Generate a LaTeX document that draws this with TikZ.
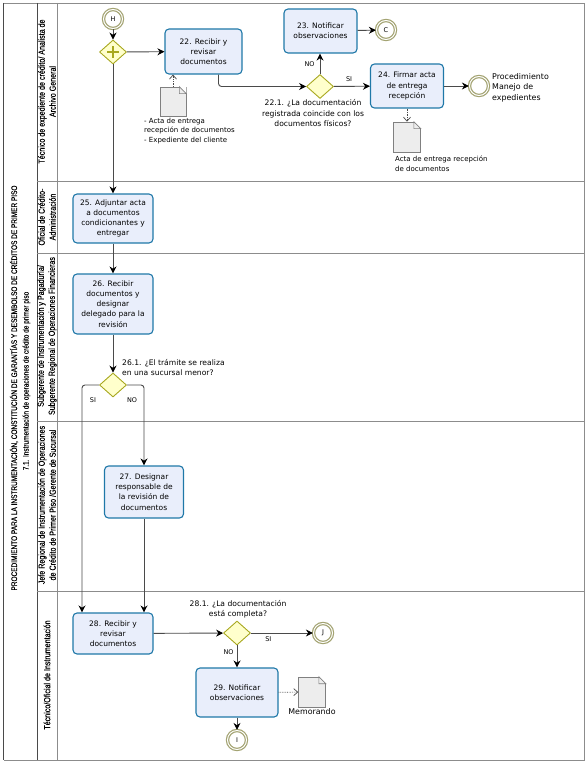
\documentclass[tikz,border=0pt]{standalone}
\usepackage{fontspec}
\setmainfont{DejaVu Sans}
\newfontfamily\lanefont[FakeStretch=0.80,FakeBold=0.25]{Liberation Sans}
\usetikzlibrary{arrows.meta,shapes.geometric}
\definecolor{taskfill}{HTML}{E9EEFB}
\definecolor{taskline}{HTML}{1F78A8}
\definecolor{gatefill}{HTML}{FFFFCC}
\definecolor{gateline}{HTML}{A8A820}
\definecolor{eventline}{HTML}{A3A372}
\definecolor{laneline}{HTML}{8C8C8C}
\definecolor{flowline}{HTML}{4A4A4A}
\newcommand{\docfold}[1]{%
    \fill[white] ([xshift=-7pt]#1.north east) -- (#1.north east) -- ([yshift=-7pt]#1.north east) -- cycle;
    \draw[gray,line width=.6pt] ([xshift=-7pt]#1.north east) -- ([xshift=-7pt,yshift=-7pt]#1.north east) -- ([yshift=-7pt]#1.north east) -- cycle;
}
\begin{document}
\begin{tikzpicture}[
        x=1pt,
        y=-1pt,
        task/.style={
            rectangle,
            draw=taskline,
            fill=taskfill,
            line width=1.1pt,
            rounded corners=4pt,
            align=center,
            inner sep=0pt,
            font=\fontsize{7.5}{10.2}\selectfont
        },
        gate/.style={
            diamond,
            draw=gateline,
            fill=gatefill,
            line width=.9pt,
            inner sep=0pt,
            aspect=1.1,
            minimum width=27pt,
            minimum height=24pt
        },
        event/.style={
            circle,
            draw=eventline,
            fill=white,
            double=white,
            double distance=1pt,
            line width=1.2pt,
            inner sep=0pt,
            minimum size=19pt,
            font=\fontsize{6.5}{8}\selectfont
        },
        docbox/.style={
            rectangle,
            draw=gray,
            fill=black!7,
            line width=.6pt,
            inner sep=0pt
        },
        caption/.style={
            align=left,
            inner sep=0pt,
            font=\fontsize{7}{9.4}\selectfont
        },
        question/.style={
            align=center,
            inner sep=0pt,
            font=\fontsize{7.6}{10.4}\selectfont
        },
        endcaption/.style={
            align=left,
            inner sep=0pt,
            font=\fontsize{7.9}{10.4}\selectfont
        },
        flowlabel/.style={
            inner sep=0pt,
            font=\fontsize{6.5}{8}\selectfont
        },
        lanelabel/.style={
            rotate=90,
            align=center,
            inner sep=0pt,
            font=\lanefont\fontsize{8.9}{11}\selectfont
        },
        pooltext/.style={
            rotate=90,
            align=center,
            inner sep=0pt,
            font=\lanefont\fontsize{8.1}{10}\selectfont
        },
        arrow/.style={
            -{Stealth[length=7pt,width=7pt,black]},
            draw=flowline,
            line width=.9pt,
            rounded corners=3pt
        },
        assoc/.style={
            -{Straight Barb[length=4pt,width=7pt]},
            draw=flowline,
            densely dotted,
            line width=.7pt
        },
        laneedge/.style={
            draw=laneline,
            line width=.8pt
        }
    ]
        \useasboundingbox (0,0) rectangle (586,765);

        % pool and lanes
        \draw[laneedge] (3.5,3) -- (584,3) -- (584,760) -- (3.5,760);
        \draw[flowline,line width=.8pt] (3.5,3) -- (3.5,760);
        \draw[flowline,line width=.8pt] (37,3) -- (37,760);
        \draw[laneedge] (57,3) -- (57,760);
        \draw[laneedge] (37,181.5) -- (584,181.5);
        \draw[laneedge] (37,253) -- (584,253);
        \draw[laneedge] (37,421) -- (584,421);
        \draw[laneedge] (37,591.5) -- (584,591.5);

        \node[pooltext] (pooltitle) at (14,388) {PROCEDIMIENTO PARA LA INSTRUMENTACIÓN, CONSTITUCIÓN DE GARANTÍAS Y DESEMBOLSO DE CRÉDITOS DE PRIMER PISO};
        \node[pooltext] (poolsub) at (26.5,381) {7.1. Instrumentación de operaciones de crédito de primer piso};
        \node[lanelabel] (lanetecnico) at (47,91.5) {Técnico de expediente de crédito/ Analista de\\Archivo General};
        \node[lanelabel] (laneoficial) at (47,217) {Oficial de Crédito-\\Administración};
        \node[lanelabel] (lanesub) at (47,336) {Subgerente de Instrumentación y Pagaduría/\\Subgerente Regional de Operaciones Financieras};
        \node[lanelabel] (lanejefe) at (47,505) {Jefe Regional de Instrumentación de Operaciones\\de Crédito de Primer Piso /Gerente de Sucursal};
        \node[lanelabel] (laneoficialins) at (47,675) {Técnico/Oficial de Instrumentación};

        % events and gateways
        \node[event] (evH) at (113,19) {H};
        \node[gate] (gwstart) at (113,52) {};
        \node[gate] (gw221) at (320,86.5) {};
        \node[event] (evC) at (386,30) {C};
        \node[event] (evend) at (479,86) {};
        \node[gate] (gw261) at (113,385) {};
        \node[gate] (gw281) at (237,633) {};
        \node[event] (evJ) at (323,633) {J};
        \node[event] (evI) at (237,740) {I};

        % tasks
        \node[task,minimum width=77pt,minimum height=45pt] (task22) at (203.5,51.5) {22. Recibir y\\revisar\\documentos};
        \node[task,minimum width=73pt,minimum height=44pt] (task23) at (320.5,31) {23. Notificar\\observaciones};
        \node[task,minimum width=73pt,minimum height=44pt] (task24) at (407,86) {24. Firmar acta\\de entrega\\recepción};
        \node[task,minimum width=80pt,minimum height=49pt] (task25) at (113,218.5) {25. Adjuntar acta\\a documentos\\condicionantes y\\entregar};
        \node[task,minimum width=80pt,minimum height=60pt] (task26) at (113,304) {26. Recibir\\documentos y\\designar\\delegado para la\\revisión};
        \node[task,minimum width=79pt,minimum height=52pt] (task27) at (144,492) {27. Designar\\responsable de\\la revisión de\\documentos};
        \node[task,minimum width=80pt,minimum height=41pt] (task28) at (113,633.5) {28. Recibir y\\revisar\\documentos};
        \node[task,minimum width=82pt,minimum height=49pt] (task29) at (237,692.5) {29. Notificar\\observaciones};

        % documents
        \node[docbox,minimum width=26pt,minimum height=29pt] (doc22) at (173,101.5) {};
        \node[docbox,minimum width=27pt,minimum height=30pt] (doc24) at (407,137) {};
        \node[docbox,minimum width=27pt,minimum height=30pt] (doc29) at (312,692) {};
        \docfold{doc22}
        \docfold{doc24}
        \docfold{doc29}

        % parallel mark
        \draw[gateline,line width=2.4pt] ([yshift=-6pt]gwstart.center) -- ([yshift=6pt]gwstart.center);
        \draw[gateline,line width=2.4pt] ([xshift=-6pt]gwstart.center) -- ([xshift=6pt]gwstart.center);

        % captions
        \node[caption,anchor=north west] (capdoc22) at (144,118) {- Acta de entrega\\recepción de documentos\\- Expediente del cliente};
        \node[caption,anchor=north west] (capdoc24) at (395,156) {Acta de entrega recepción\\de documentos};
        \node[endcaption,anchor=north] (capdoc29) at (312,708) {Memorando};
        \node[endcaption,anchor=north west] (capend) at (492,73) {Procedimiento\\Manejo de\\expedientes};
        \node[question,anchor=north] (cap221) at (313,99.5) {22.1. ¿La documentación\\registrada coincide con los\\documentos físicos?};
        \node[question,align=left,anchor=north west] (cap261) at (122,359) {26.1. ¿El trámite se realiza\\en una sucursal menor?};
        \node[question,anchor=north] (cap281) at (238,600) {28.1. ¿La documentación\\está completa?};

        % connectors
        \draw[arrow] (evH) -- (gwstart);
        \draw[arrow] (gwstart) -- (task22);
        \draw[arrow] (gwstart) -- (task25);
        \draw[arrow] ([xshift=15pt]task22.south) |- (gw221);
        \draw[arrow] (gw221) -- node[flowlabel,pos=.5,left=5pt] (lblno23) {NO} (gw221 |- task23.south);
        \draw[arrow] (gw221) -- node[flowlabel,pos=.42,above=4pt] (lblsi24) {SI} (task24);
        \draw[arrow] (task23) -- (evC);
        \draw[arrow] (task24) -- (evend);
        \draw[arrow] (task25) -- (task26);
        \draw[arrow] (task26) -- (gw261);
        \draw[arrow] (gw261) -| ([xshift=-31pt]task28.north);
        \draw[arrow] (gw261) -| (task27);
        \draw[arrow] (task27) -- (task27 |- task28.north);
        \draw[arrow] (task28) -- (gw281);
        \draw[arrow] (gw281) -- node[flowlabel,pos=.28,below=3pt] (lblsi28) {SI} (evJ);
        \draw[arrow] (gw281) -- node[flowlabel,pos=.3,left=3pt] (lblno29) {NO} (task29);
        \draw[arrow] (task29) -- (evI);
        \draw[assoc] (doc22) -- (doc22 |- task22.south);
        \draw[assoc] (task24) -- (doc24);
        \draw[assoc] (task29) -- (doc29);
        \node[flowlabel] (lblsi26) at (93,400) {SI};
        \node[flowlabel] (lblno26) at (132,400) {NO};
\end{tikzpicture}
\end{document}
